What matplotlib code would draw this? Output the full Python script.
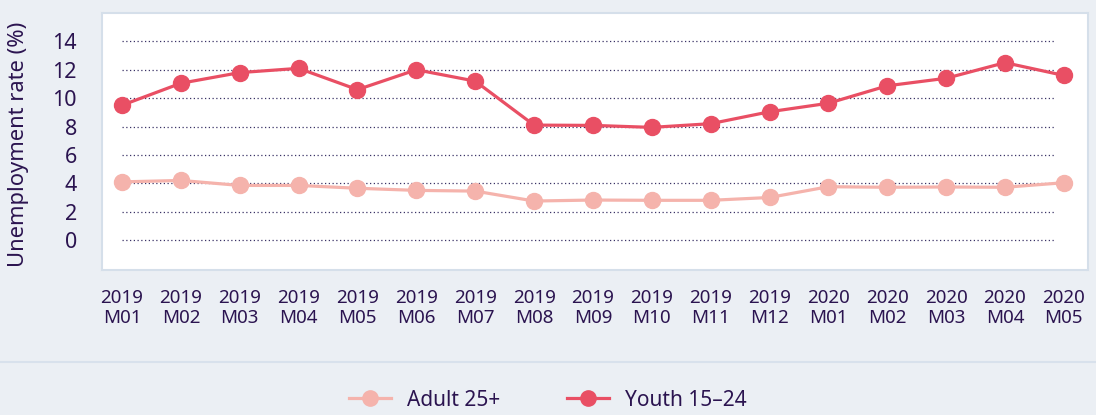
#Imports
import matplotlib
matplotlib.use('Agg')
import matplotlib.pyplot as plt
from matplotlib.lines import Line2D

plt.rcParams['font.family'] = ['Noto Sans', 'DejaVu Sans']

#Data
years = ['2019'] * 12 + ['2020'] * 5
months = ['M01', 'M02', 'M03', 'M04', 'M05', 'M06', 'M07', 'M08', 'M09', 'M10', 'M11', 'M12',
          'M01', 'M02', 'M03', 'M04', 'M05']
adult = [4.1, 4.2, 3.85, 3.85, 3.65, 3.5, 3.45, 2.75, 2.82, 2.8, 2.8, 3.0,
         3.76, 3.72, 3.74, 3.72, 4.04]
youth = [9.5, 11.05, 11.8, 12.1, 10.6, 12.0, 11.2, 8.1, 8.08, 7.94, 8.2, 9.04,
         9.64, 10.87, 11.4, 12.5, 11.6]
y_ticks = [0, 2, 4, 6, 8, 10, 12, 14]

#Colours
bg = '#EBEFF4'
text_col = '#2B1450'
adult_col = '#F5B3AC'
youth_col = '#E94F64'

fig = plt.figure(figsize=(10.96, 4.15), dpi=100, facecolor=bg)
ax = fig.add_axes([102/1096, 1-270/415, 986/1096, 257/415])
ax.set_facecolor('white')

x = list(range(len(months)))

#dotted gridlines
for t in y_ticks:
    ax.plot([0.0203, 0.9655], [t, t], transform=ax.get_yaxis_transform(),
            color='#3A3366', linestyle=(0, (1, 2)), linewidth=0.9, zorder=1)

ax.plot(x, adult, color=adult_col, linewidth=2.3, marker='o', markersize=11.5, zorder=3)
ax.plot(x, youth, color=youth_col, linewidth=2.3, marker='o', markersize=11.5, zorder=4)

ax.set_xlim(-0.34, 16.41)
ax.set_ylim(-2.11, 16.0)

ax.set_yticks(y_ticks)
ax.set_yticklabels([str(t) for t in y_ticks], fontsize=15.5, color=text_col)
ax.set_xticks(x)
ax.set_xticklabels([y + '\n' + m for y, m in zip(years, months)], fontsize=13.5,
                   color=text_col, linespacing=1.1)
ax.tick_params(axis='y', length=0, pad=18)
ax.tick_params(axis='x', length=0, pad=14)
ax.set_ylabel('Unemployment rate (%)', fontsize=15.8, color=text_col)
ax.yaxis.set_label_coords(-0.074, 0.49)

for s in ax.spines.values():
    s.set_color('#D5DFEA')
    s.set_linewidth(1.5)

#separator line above legend
fig.add_artist(Line2D([0, 1], [1-362/415, 1-362/415], color='#D8E1EC', linewidth=1.5))

handles = [Line2D([], [], color=adult_col, linewidth=2.3, marker='o', markersize=11),
           Line2D([], [], color=youth_col, linewidth=2.3, marker='o', markersize=11)]
fig.legend(handles, ['Adult 25+', 'Youth 15\u201324'], loc='center', bbox_to_anchor=(0.5, 1-400/415),
           ncol=2, frameon=False, fontsize=15, labelcolor=text_col, handlelength=2.0,
           columnspacing=3.2, handletextpad=0.8)

fig.savefig('out.png', dpi=100, facecolor=bg)
